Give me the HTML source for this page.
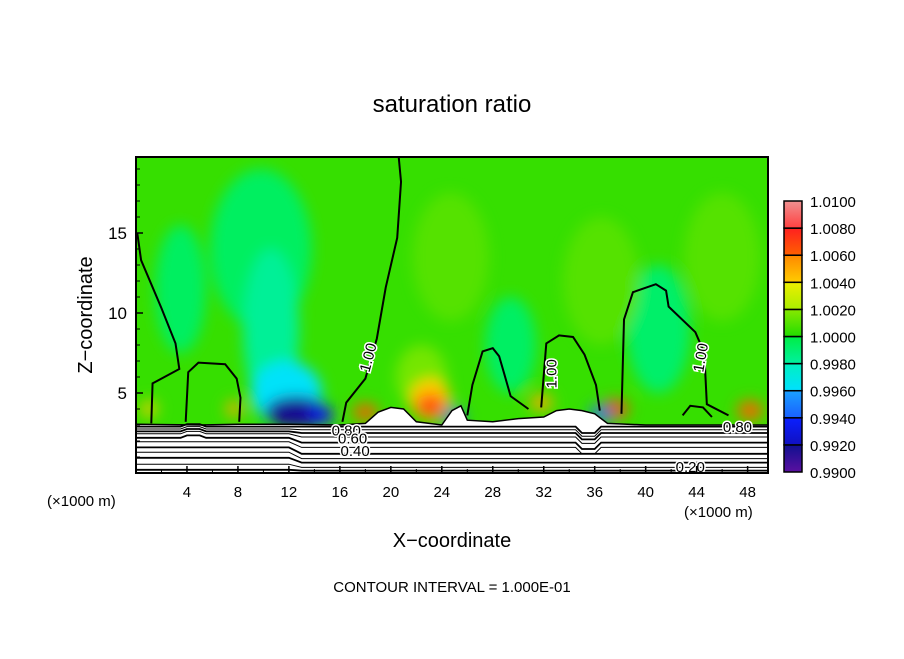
<!DOCTYPE html>
<html><head><meta charset="utf-8"><style>
body{margin:0;background:#fff;}
svg text{font-family:"Liberation Sans",sans-serif;fill:#000;}
</style></head><body>
<svg id="chart" width="904" height="654" viewBox="0 0 904 654">
<defs>
<clipPath id="pc"><rect x="136" y="157" width="632" height="316"/></clipPath>
<filter id="blur" x="-50%" y="-50%" width="200%" height="200%"><feGaussianBlur stdDeviation="7"/></filter>
<filter id="blur2" x="-50%" y="-50%" width="200%" height="200%"><feGaussianBlur stdDeviation="3"/></filter>
</defs>
<text x="452" y="112" font-size="24" text-anchor="middle">saturation ratio</text>
<g id="field" clip-path="url(#pc)"></g>
<g id="contours" clip-path="url(#pc)"></g>
<rect x="136" y="157" width="632" height="316" fill="none" stroke="#000" stroke-width="2"/>
<g id="axes"></g>
<text transform="translate(92,315) rotate(-90)" font-size="20" text-anchor="middle">Z−coordinate</text>
<text x="452" y="547" font-size="20" text-anchor="middle">X−coordinate</text>
<text x="47" y="506" font-size="15">(×1000 m)</text>
<text x="684" y="517" font-size="15">(×1000 m)</text>
<text x="452" y="592" font-size="15" text-anchor="middle">CONTOUR INTERVAL = 1.000E-01</text>
<g id="cbar"></g>
</svg>
<script>
const xTicks=[4,8,12,16,20,24,28,32,36,40,44,48];
const yTicks=[5,10,15];
const cbarLevels=[0.9900,0.9920,0.9940,0.9960,0.9980,1.0000,1.0020,1.0040,1.0060,1.0080,1.0100];
const cbarColors=[["#5a10a0","#101090"],["#1010c0","#0a20ff"],["#1a60ff","#1aa0ff"],["#00e0ff","#00f0c0"],["#00f0a0","#00ee44"],["#22dd00","#88e800"],["#aaee00","#eeee00"],["#ffcc00","#ff8800"],["#ff6000","#ff2020"],["#ff4040","#f09090"]];
const fieldValue=1.0004;
// blobs: x, z, rx, rz, value
const blobX=[9.8,3.5,41,29.4,10.6,11.8,12.6,24.7,36.5,46,22.4,23.1,23.1,18,37.6,48.2,31.8,25,36.5,1,7.7,14.5];
const blobZ=[14,11.5,9,8,9,5,3.8,13.5,12,13.5,6,4.6,4.2,3.8,4,3.9,4.4,3.5,3.7,4,4,3.6];
const blobRX=[4,2,2.5,2,2.2,2.8,2.5,3,3,3,2,1.6,1.1,1,1,1,0.9,0.8,0.9,0.6,0.6,1];
const blobRZ=[5,4,4,3,5,2,1,4,4,4,2,1.3,0.7,0.5,0.6,0.6,0.5,0.5,0.5,0.5,0.5,0.6];
const blobV=[0.9994,0.9994,0.9992,0.9993,0.9982,0.9962,0.9918,1.0010,1.0010,1.0010,1.0016,1.004,1.0068,1.0062,1.0068,1.006,1.005,0.9945,0.9945,1.004,1.005,0.9935];
// terrain top (z) along x
const terrX=[0,5,8,12,16,18,19,20,21,22,24,24.8,25.5,26,28,30,32,33,34,35,36,37,40,44,48,50];
const terrZ=[3.05,3.0,3.05,3.05,3.0,3.1,3.8,4.1,4.0,3.2,3.0,3.9,4.2,3.3,3.2,3.4,3.5,3.9,4.0,3.9,3.7,3.1,3.0,3.0,3.0,3.0];
// ground contour levels
const groundZ=[2.9,2.75,2.6,2.45,2.2,1.95,1.6,1.3,0.95,0.55,0.2];
const groundDrop=[0.0,0.05,0.1,0.2,0.3,0.35,0.4,0.4,0.3,0.2,0.05];
// 1.00 contours (x,z pairs)
const c1X=[0.1,0.4,2,3.1,3.4,1.3,1.2];
const c1Z=[15,13.3,10.3,8.1,6.5,5.6,3.1];
const c2X=[3.9,4.1,4.9,7,7.9,8.2,8.1];
const c2Z=[3.2,6.3,6.9,6.8,5.9,4.7,3.2];
const c3X=[20.6,20.8,20.5,19.6,18.9,18,16.5,16.2];
const c3Z=[19.9,18.2,14.7,11.6,8.4,5.9,4.4,3.2];
const c4X=[26,26.4,27.2,28,28.5,28.9,29.4,30.8];
const c4Z=[3.6,5.5,7.6,7.8,7.3,6.2,4.8,4.0];
const c5X=[31.8,32.2,33.2,34.3,35.2,36.1,36.4];
const c5Z=[4.1,8.1,8.6,8.5,7.4,5.5,3.9];
const c6X=[38.1,38.3,39,40.8,41.6,41.8,43.9,44.6,44.8,46.5];
const c6Z=[3.7,9.6,11.3,11.8,11.4,10.4,8.8,7.5,4.3,3.6];
const c7X=[42.9,43.5,44.5,45.2];
const c7Z=[3.6,4.2,4.1,3.5];
const labelText=["1.00","1.00","1.00","0.80","0.60","0.40","0.80","0.20"];
const labelX=[18.3,32.7,44.4,16.5,17,17.2,47.2,43.5];
const labelZ=[7.2,6.2,7.2,2.6,2.1,1.3,2.8,0.3];
const labelRot=[-75,-90,-80,0,0,0,0,0];

const X0=136,X1=768,Y0=473,Y1=157,XMIN=0,XMAX=49.6,ZMIN=0,ZMAX=19.75;
const sx=v=>X0+(v-XMIN)/(XMAX-XMIN)*(X1-X0);
const sz=v=>Y0-(v-ZMIN)/(ZMAX-ZMIN)*(Y0-Y1);
const NS="http://www.w3.org/2000/svg";
function mk(t,a,p){const e=document.createElementNS(NS,t);for(const k in a)e.setAttribute(k,a[k]);p.appendChild(e);return e;}
function hx(c){return [1,3,5].map(i=>parseInt(c.substr(i,2),16));}
function color(v){
  const i=Math.max(0,Math.min(9,Math.floor((v-0.99)/0.002)));
  const f=Math.max(0,Math.min(1,(v-0.99-i*0.002)/0.002));
  const a=hx(cbarColors[i][0]),b=hx(cbarColors[i][1]);
  return 'rgb('+a.map((c,k)=>Math.round(c+(b[k]-c)*f)).join(',')+')';
}
const field=document.getElementById('field');
const bg=mk('rect',{x:136,y:157,width:632,height:316,fill:color(fieldValue)},field);


const bg2=mk('g',{filter:'url(#blur)'},field);
for(let i=0;i<blobX.length;i++){
  const big=blobRX[i]>1.5;
  const e=mk('ellipse',{cx:sx(blobX[i]),cy:sz(blobZ[i]),rx:blobRX[i]*12.7,ry:blobRZ[i]*16,fill:color(blobV[i]),filter:big?'':'url(#blur2)'},bg2);
  
  
}
let tp=`M${sx(0)},${sz(0)}`;
for(let i=0;i<terrX.length;i++) tp+=` L${sx(terrX[i])},${sz(terrZ[i])}`;
tp+=` L${sx(50)},${sz(0)} Z`;
const ground=mk('path',{d:tp,fill:'#fff',stroke:'#000','stroke-width':1.5},field);


const cg=document.getElementById('contours');
for(let j=0;j<groundZ.length;j++){
  let d='';
  for(let x=0;x<=50;x+=0.5){
    let z=groundZ[j];
    if(x>13)z-=groundDrop[j];
    else if(x>12)z-=groundDrop[j]*(x-12);
    if(Math.abs(x-4.5)<0.8)z+=0.15*(j<5?1:0);
    if(x>34.5&&x<36.5&&j<6)z-=0.4;
    d+=(x===0?'M':'L')+sx(x)+','+sz(z)+' ';
  }
  const p=mk('path',{d:d,fill:'none',stroke:'#000','stroke-width':j%2?1:1.8},cg);
  
  
}
[[c1X,c1Z],[c2X,c2Z],[c3X,c3Z],[c4X,c4Z],[c5X,c5Z],[c6X,c6Z],[c7X,c7Z]].forEach(([xs,zs])=>{
  const pts=xs.map((x,i)=>sx(x)+','+sz(zs[i])).join(' ');
  const p=mk('polyline',{points:pts,fill:'none',stroke:'#000','stroke-width':2},cg);
  
  
});
for(let i=0;i<labelText.length;i++){
  const x=sx(labelX[i]),y=sz(labelZ[i]);
  const t=mk('text',{x:x,y:y,'font-size':15,'text-anchor':'middle','dominant-baseline':'middle',transform:`rotate(${labelRot[i]},${x},${y})`,stroke:'#fff','stroke-width':3,'paint-order':'stroke'},cg);
  t.textContent=labelText[i];
  
  
}
const ax=document.getElementById('axes');
xTicks.forEach(v=>{
  const l=mk('line',{x1:sx(v),x2:sx(v),y1:473,y2:466,stroke:'#000','stroke-width':1.5},ax);
  
  
  const t=mk('text',{x:sx(v),y:497,'font-size':15,'text-anchor':'middle'},ax);
  t.textContent=v;
  
  
});
for(let v=2;v<50;v+=2){if(v%4)mk('line',{x1:sx(v),x2:sx(v),y1:473,y2:469,stroke:'#000'},ax);}
yTicks.forEach(v=>{
  const l=mk('line',{x1:136,x2:143,y1:sz(v),y2:sz(v),stroke:'#000','stroke-width':1.5},ax);
  
  
  const t=mk('text',{x:127,y:sz(v)+6,'font-size':17,'text-anchor':'end'},ax);
  t.textContent=v;
  
  
});
for(let v=1;v<20;v++){if(v%5)mk('line',{x1:136,x2:140,y1:sz(v),y2:sz(v),stroke:'#000'},ax);}
const cb=document.getElementById('cbar');
const CB0=472,CB1=201,cy=v=>CB0-(v-0.99)/0.02*(CB0-CB1);
for(let i=0;i<10;i++){
  const id='g'+i;
  const lg=mk('linearGradient',{id:id,x1:0,y1:1,x2:0,y2:0},cb);
  mk('stop',{offset:0,'stop-color':cbarColors[i][0]},lg);
  mk('stop',{offset:1,'stop-color':cbarColors[i][1]},lg);
  const r=mk('rect',{x:784,y:cy(cbarLevels[i+1]),width:18,height:cy(cbarLevels[i])-cy(cbarLevels[i+1]),fill:`url(#${id})`,stroke:'#000','stroke-width':1.5},cb);
  
  
}
cbarLevels.forEach(v=>{
  const t=mk('text',{x:810,y:cy(v)+6,'font-size':15},cb);
  t.textContent=v.toFixed(4);
  
  
});
</script>
</body></html>
